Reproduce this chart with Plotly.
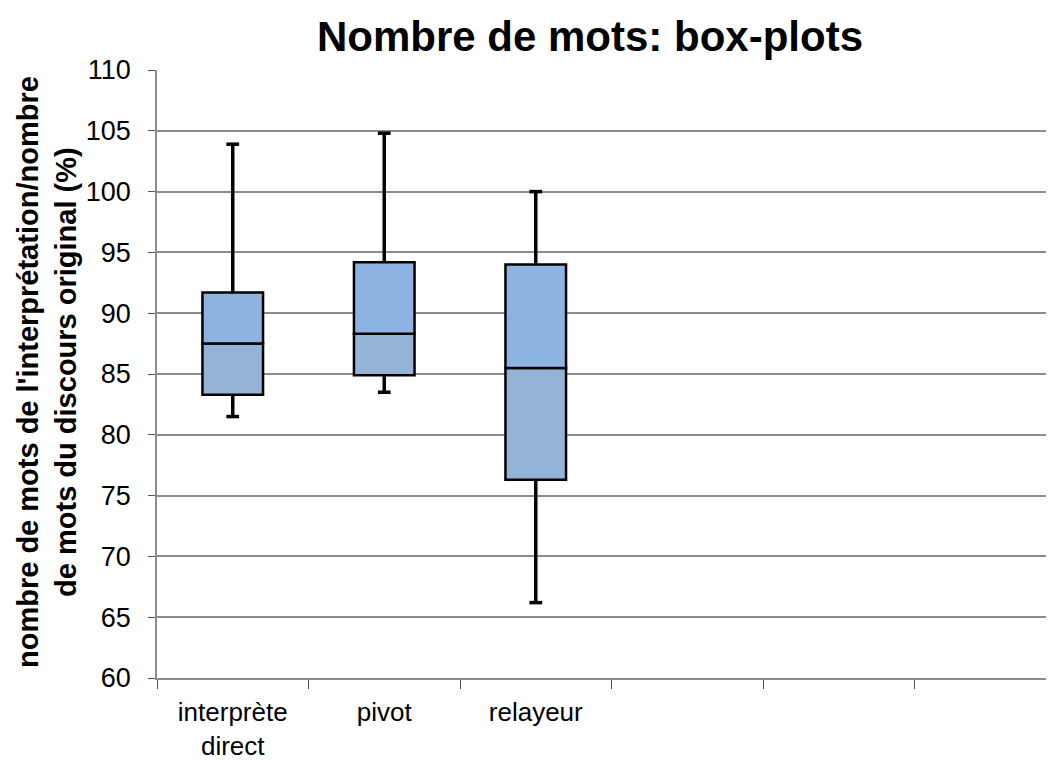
import plotly.graph_objects as go

# ---- data ----
categories = ["interprète<br>direct", "pivot", "relayeur"]
extra_slots = 3  # empty category slots on the axis
minimum = [81.5, 83.5, 66.2]
q1 = [83.3, 84.9, 76.3]
median = [87.5, 88.3, 85.5]
q3 = [91.7, 94.2, 94.0]
maximum = [103.9, 104.8, 100.0]

y_ticks = [60, 65, 70, 75, 80, 85, 90, 95, 100, 105, 110]

# ---- styling constants ----
FONT = "Liberation Sans, Arial, sans-serif"
LOWER_COLOR = "#95B3D7"
UPPER_COLOR = "#8DB3E2"
BOX_WIDTH = 0.4
CAP_HALF = 0.042
GRID = "#8c8c8c"

idx = list(range(len(categories)))

fig = go.Figure()

fig.add_trace(go.Bar(
    x=idx, y=[m - a for m, a in zip(median, q1)], base=q1,
    width=BOX_WIDTH, marker=dict(color=LOWER_COLOR, line=dict(color="black", width=2.5)),
    showlegend=False, hoverinfo="skip",
))
fig.add_trace(go.Bar(
    x=idx, y=[b - m for b, m in zip(q3, median)], base=median,
    width=BOX_WIDTH, marker=dict(color=UPPER_COLOR, line=dict(color="black", width=2.5)),
    showlegend=False, hoverinfo="skip",
))

# whiskers + caps
wx, wy = [], []
for i in idx:
    wx += [i, i, None, i, i, None]
    wy += [q3[i], maximum[i], None, minimum[i], q1[i], None]
    wx += [i - CAP_HALF, i + CAP_HALF, None, i - CAP_HALF, i + CAP_HALF, None]
    wy += [maximum[i], maximum[i], None, minimum[i], minimum[i], None]
fig.add_trace(go.Scatter(
    x=wx, y=wy, mode="lines", line=dict(color="black", width=3.5),
    showlegend=False, hoverinfo="skip", connectgaps=False,
))

n_slots = len(categories) + extra_slots
# page body has an 8px margin, so figure coords = screen coords - 8
OFF = 8
W, H = 1054, 760
ML = 157 - OFF
MT = 70 - OFF
PLOT_BOTTOM = 678 - OFF
MB = H - PLOT_BOTTOM
plot_w = W - ML
plot_h = PLOT_BOTTOM - MT
slot_px = 151.5
x_end = -0.5 + plot_w / slot_px

fig.update_layout(
    width=W, height=H,
    margin=dict(l=ML, r=0, t=MT, b=MB, pad=0, autoexpand=False),
    plot_bgcolor="white", paper_bgcolor="white",
    barmode="overlay",
    font=dict(family=FONT, color="black"),
    title=dict(
        text="<b>Nombre de mots: box-plots</b>",
        font=dict(family=FONT, size=42, color="black"),
        x=(590 - OFF) / W, xanchor="center", xref="container",
        y=1 - (36 - OFF) / H, yanchor="middle", yref="container",
    ),
    xaxis=dict(
        range=[-0.5, x_end], automargin=False,
        tickmode="array", tickvals=idx, ticktext=categories,
        ticks="", showgrid=False, zeroline=False,
        showline=True, linecolor=GRID, linewidth=1.5,
        tickfont=dict(family=FONT, size=26, color="black"),
        ticklabelstandoff=10,
        minor=dict(tickmode="array", tickvals=[i - 0.5 for i in range(n_slots)],
                   ticks="outside", ticklen=9, tickcolor="#555555", tickwidth=1, showgrid=False),
    ),
    yaxis=dict(
        range=[60, 110], tickmode="array", tickvals=y_ticks, automargin=False,
        showgrid=True, gridcolor=GRID, gridwidth=1.5,
        zeroline=False, showline=True, linecolor=GRID, linewidth=1.5,
        ticks="outside", ticklen=7, tickcolor="#555555",
        tickfont=dict(family=FONT, size=27, color="black"),
        ticklabelstandoff=12,
    ),
    annotations=[dict(
        text="<b>nombre de mots de l'interprétation/nombre<br>de mots du discours original (%)</b>",
        xref="paper", yref="paper",
        x=(47 - OFF - ML) / plot_w, y=(PLOT_BOTTOM - (372 - OFF)) / plot_h,
        xanchor="center", yanchor="middle",
        textangle=-90, showarrow=False,
        font=dict(family=FONT, size=29, color="black"),
    )],
)

fig.write_html("out.html")
